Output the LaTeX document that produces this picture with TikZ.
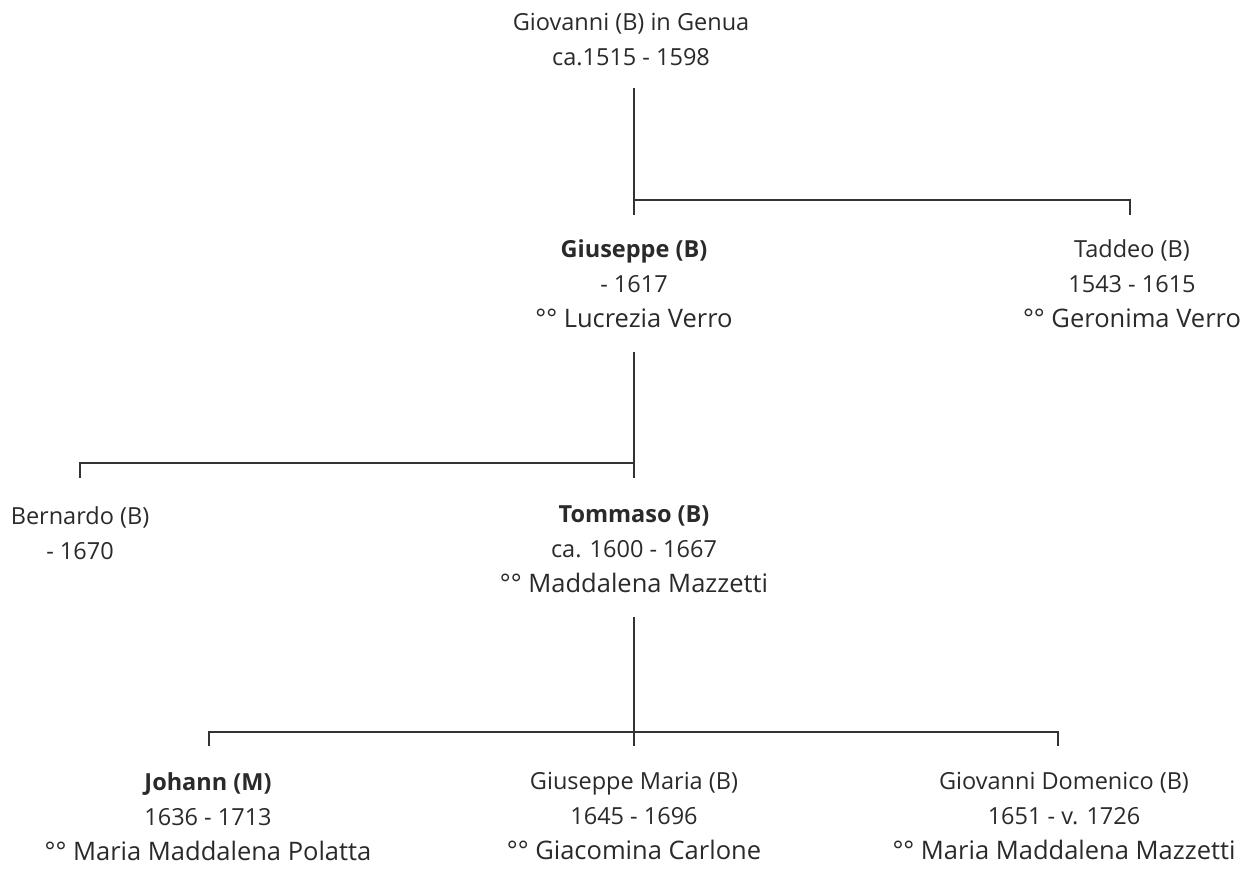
\documentclass[tikz,border=0pt]{standalone}
\usepackage{fontspec}
\setmainfont{Open Sans}
\definecolor{txt}{HTML}{2A2A2A}
\definecolor{linec}{HTML}{333333}
\newcommand{\marline}{\fontsize{25.5}{37}\selectfont}
\begin{document}
\begin{tikzpicture}[x=1pt,y=-1pt,
  person/.style={align=center, inner sep=0pt, anchor=north, text=txt, font=\fontsize{23.5}{35}\selectfont},
  link/.style={draw=linec, line width=1.3pt}]
\useasboundingbox[fill=white] (0,0) rectangle (1255,871);
% persons
\node[person] (giovanni) at (631,13) {Giovanni (B) in Genua\\ca.1515 - 1598};
\node[person] (giuseppe) at (634,239) {\textbf{Giuseppe (B)}\\- 1617\\{\marline °° Lucrezia Verro}};
\node[person] (taddeo) at (1132,239) {Taddeo (B)\\1543 - 1615\\{\marline °° Geronima Verro}};
\node[person] (bernardo) at (80,506) {Bernardo (B)\\- 1670};
\node[person] (tommaso) at (634,506) {\textbf{Tommaso (B)}\\ca. 1600 - 1667\\{\marline °° Maddalena Mazzetti}};
\node[person] (johann) at (208,772) {\textbf{Johann (M)}\\1636 - 1713\\{\marline °° Maria Maddalena Polatta}};
\node[person] (gmaria) at (634,772) {Giuseppe Maria (B)\\1645 - 1696\\{\marline °° Giacomina Carlone}};
\node[person] (gdom) at (1064,772) {Giovanni Domenico (B)\\1651 - v. 1726\\{\marline °° Maria Maddalena Mazzetti}};
% connectors
\coordinate (giovanniB) at (634,88);
\coordinate (giuseppeT) at (634,215);
\coordinate (taddeoT) at (1130,215);
\coordinate (giuseppeB) at (634,352);
\coordinate (tommasoT) at (634,478);
\coordinate (bernardoT) at (80,478);
\coordinate (tommasoB) at (634,617);
\coordinate (gmariaT) at (634,746);
\coordinate (johannT) at (209,746);
\coordinate (gdomT) at (1058,746);
\draw[link] (giovanniB) -- (giuseppeT);
\draw[link] (giuseppeT |- 0,200) -| (taddeoT);
\draw[link] (giuseppeB) -- (tommasoT);
\draw[link] (tommasoT |- 0,463) -| (bernardoT);
\draw[link] (tommasoB) -- (gmariaT);
\draw[link] (johannT) |- (gmariaT |- 0,732) -| (gdomT);
\end{tikzpicture}
\end{document}
